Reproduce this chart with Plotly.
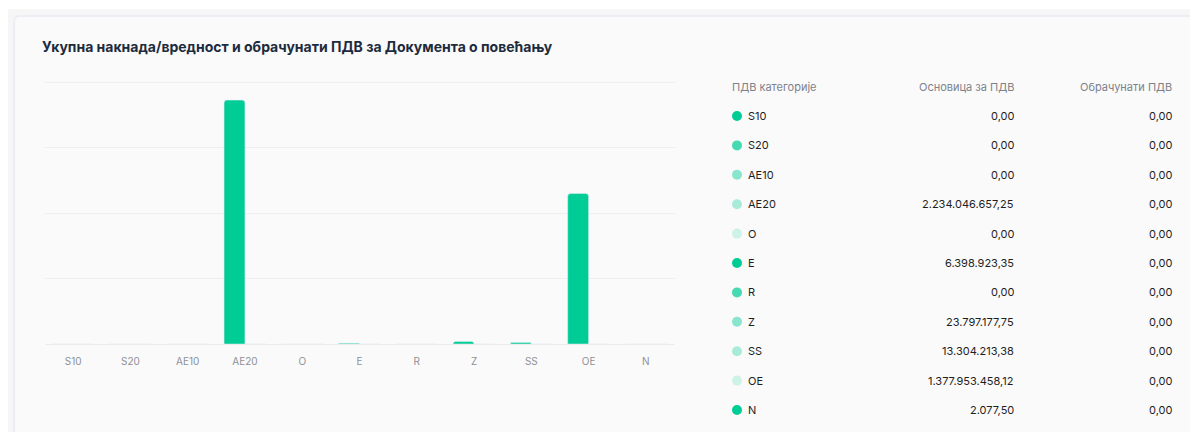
import plotly.graph_objects as go

# ---- data ----
categories = ["S10", "S20", "AE10", "AE20", "O", "E", "R", "Z", "SS", "OE", "N"]
osnovica = [0.00, 0.00, 0.00, 2234046657.25, 0.00, 6398923.35, 0.00,
            23797177.75, 13304213.38, 1377953458.12, 2077.50]
obracunati = [0.00] * 11
title_text = "Укупна накнада/вредност и обрачунати ПДВ за Документа о повећању"
headers = ["ПДВ категорије", "Основица за ПДВ", "Обрачунати ПДВ"]

# page body has an 8px margin; figure is sized to fit the window
OFF = 8
W, H = 1198 - OFF, 432 - OFF
GREEN = "#00CC96"
dot_alpha = [1.0, 0.72, 0.45, 0.32, 0.18]


def fmt(v):
    s = f"{v:,.2f}"
    return s.replace(",", "X").replace(".", ",").replace("X", ".")


def px(x):
    return (x - OFF) / W


def py(y):
    return 1 - (y - OFF) / H


fig = go.Figure()

fig.add_trace(go.Bar(x=categories, y=osnovica, name=headers[1],
                     marker=dict(color=GREEN, cornerradius=3), showlegend=False))
fig.add_trace(go.Bar(x=categories, y=obracunati, name=headers[2],
                     marker=dict(color=GREEN, cornerradius=3), showlegend=False))

# table rows via a secondary (invisible) axis: x in window pixels, y in row index
row_idx = list(range(len(categories)))
dot_colors = [f"rgba(0,204,150,{dot_alpha[i % 5]})" for i in row_idx]
fig.add_trace(go.Scatter(x=[737] * len(categories), y=row_idx, mode="markers",
                         marker=dict(size=10, color=dot_colors),
                         xaxis="x2", yaxis="y2", showlegend=False, hoverinfo="skip"))

annotations = []
font_main = "Inter, 'Noto Sans', sans-serif"
hdr_font = dict(family=font_main, size=11, color="#7d828b")
row_font = dict(family=font_main, size=11, color="#1f1f1f")
annotations.append(dict(x=730, y=-1, xref="x2", yref="y2", text=headers[0], showarrow=False,
                        xanchor="left", yanchor="middle", font=hdr_font))
annotations.append(dict(x=1016, y=-1, xref="x2", yref="y2", text=headers[1], showarrow=False,
                        xanchor="right", yanchor="middle", font=hdr_font))
annotations.append(dict(x=1174, y=-1, xref="x2", yref="y2", text=headers[2], showarrow=False,
                        xanchor="right", yanchor="middle", font=hdr_font))
for i, c in enumerate(categories):
    annotations.append(dict(x=746, y=i, xref="x2", yref="y2", text=c, showarrow=False,
                            xanchor="left", yanchor="middle", font=row_font))
    annotations.append(dict(x=1016, y=i, xref="x2", yref="y2", text=fmt(osnovica[i]),
                            showarrow=False, xanchor="right", yanchor="middle", font=row_font))
    annotations.append(dict(x=1174, y=i, xref="x2", yref="y2", text=fmt(obracunati[i]),
                            showarrow=False, xanchor="right", yanchor="middle", font=row_font))

# title
annotations.append(dict(x=px(40), y=py(47), xref="paper", yref="paper", text=f"<b>{title_text}</b>",
                        showarrow=False, xanchor="left", yanchor="middle",
                        font=dict(family=font_main, size=14, color="#1c2b3d")))

# card background shapes
r = 6
shapes = [
    dict(type="rect", xref="paper", yref="paper", x0=0, y0=0, x1=1.01, y1=py(9),
         fillcolor="#f6f6f7", line=dict(width=0), layer="below"),
    dict(type="path", xref="paper", yref="paper", layer="below",
         path=(f"M {px(14)},{py(440)} L {px(14)},{py(16 + r)} "
               f"Q {px(14)},{py(16)} {px(14 + r)},{py(16)} L {px(1210)},{py(16)} "
               f"L {px(1210)},{py(440)} Z"),
         fillcolor="#fafafa", line=dict(color="#ededf4", width=2)),
]

# secondary axis mapping: row value v -> window pixel 116 + 29.4*v
step = 29.4
top_v = (OFF - 116) / step
bot_v = (432 - 116) / step

# y scale: 0 at pixel 344, 2.4e9 at pixel 82; extend range slightly so top grid shows
y_max = 2.45e9
top_px = 344 - (344 - 82) * y_max / 2.4e9

fig.update_layout(
    width=W, height=H, autosize=False,
    margin=dict(l=0, r=0, t=0, b=0),
    paper_bgcolor="#ffffff", plot_bgcolor="rgba(0,0,0,0)",
    barmode="group", bargap=0.27, bargroupgap=0,
    xaxis=dict(domain=[px(44.5), px(674.5)], showgrid=False, showline=False,
               tickfont=dict(family=font_main, size=10, color="#8e9196"),
               ticks="outside", ticklen=8, tickcolor="rgba(0,0,0,0)", fixedrange=True),
    yaxis=dict(domain=[py(344), py(top_px)], range=[0, y_max], dtick=6e8,
               showticklabels=False, gridcolor="#efeff1", gridwidth=1,
               zeroline=True, zerolinecolor="#ececee", zerolinewidth=1, fixedrange=True),
    xaxis2=dict(domain=[0, 1], range=[OFF, 1198], visible=False, anchor="y2", fixedrange=True),
    yaxis2=dict(domain=[0, 1], range=[bot_v, top_v], visible=False, anchor="x2", fixedrange=True),
    annotations=annotations,
    shapes=shapes,
    hovermode=False,
)

fig.write_html("out.html")
